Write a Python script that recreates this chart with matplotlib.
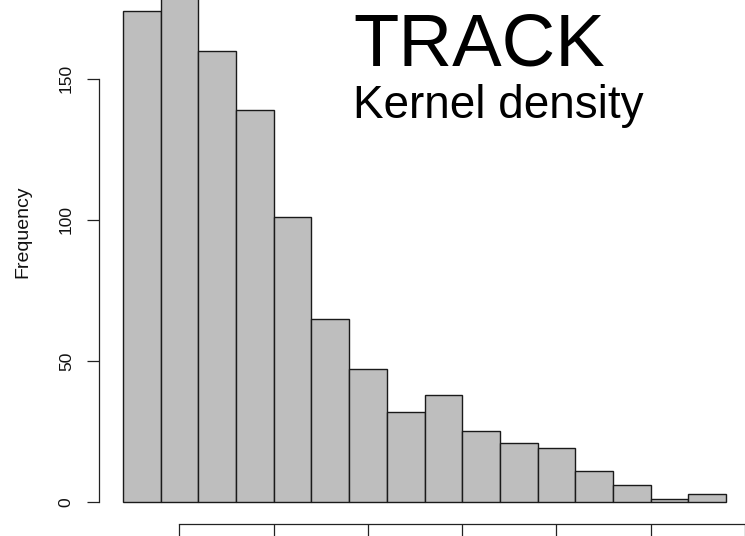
import numpy as np
import matplotlib
matplotlib.use("Agg")
from matplotlib import pyplot as plt

plt.rcParams['font.family'] = ['Liberation Sans', 'DejaVu Sans']

# histogram of track kernel density values
bin_edges = [0.2, 0.4, 0.6, 0.8, 1.0, 1.2, 1.4, 1.6, 1.8,
             2.0, 2.2, 2.4, 2.6, 2.8, 3.0, 3.2, 3.4]
counts = [174, 185, 160, 139, 101, 65, 47, 32, 38, 25, 21, 19, 11, 6, 1, 3]
x_ticks = [0.5, 1.0, 1.5, 2.0, 2.5, 3.0, 3.5]
y_ticks = [0, 50, 100, 150]

fig = plt.figure(figsize=(7.45, 5.36), dpi=100)
ax = fig.add_axes([0, 0, 1, 1])
ax.set_xlim(-0.452, 3.498)
ax.set_ylim(-12.05, 177.9)

edges = np.array(bin_edges)
ax.bar(edges[:-1], counts, width=np.diff(edges), align='edge',
       color='#bebebe', edgecolor='#1a1a1a', linewidth=1.0)

# R style axes: detached spines
for s in ['top', 'right']:
    ax.spines[s].set_visible(False)
ax.spines['left'].set_position(('data', 0.073))
ax.spines['left'].set_bounds(y_ticks[0], y_ticks[-1])
ax.spines['bottom'].set_position(('data', -7.8))
ax.spines['bottom'].set_bounds(x_ticks[0], x_ticks[-1])
for s in ['left', 'bottom']:
    ax.spines[s].set_linewidth(0.9)
    ax.spines[s].set_color('#222222')

ax.set_xticks(x_ticks)
ax.set_yticks(y_ticks)
ax.tick_params(axis='both', direction='out', length=8.6, width=0.9,
               color='#222222', labelsize=12.5, labelcolor='#111111')
# x tick labels fall below the bottom edge of the figure
ax.tick_params(axis='x', labelbottom=False)
ax.tick_params(axis='y', pad=9.5, labelrotation=90)
for lab in ax.get_yticklabels():
    lab.set_va('center')

ax.set_ylabel('Frequency', fontsize=14, color='#111111')
ax.yaxis.set_label_coords(0.0416, 0.5677)

fig.text(0.4738, 1 - 65 / 536, 'TRACK', fontsize=53.5, va='baseline', ha='left')
fig.text(0.4738, 1 - 118 / 536, 'Kernel density', fontsize=33,
         va='baseline', ha='left')

fig.savefig('out.png', dpi=100)
